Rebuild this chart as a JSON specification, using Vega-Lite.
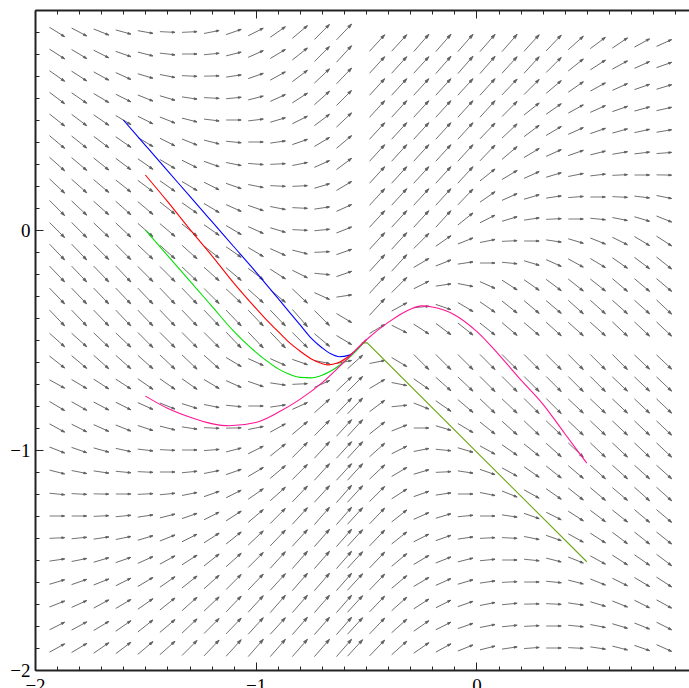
{
"$schema":"https://vega.github.io/schema/vega-lite/v6.json",
"width":654,"height":660,
"autosize":"none",
"padding":{"left":35,"top":10,"right":0,"bottom":18},
"background":"white",
"view":{"stroke":null},
"config":{"axis":{"labelFont":"Liberation Serif","labelFontSize":19,"labelColor":"#000","domainColor":"#222","domainWidth":2,"tickColor":"#222","tickWidth":1,"grid":false}},
"datasets":{
"field":[
{"x":-1.9,"y":0.9,"s":-0.62},{"x":-1.8,"y":0.9,"s":-0.53},{"x":-1.7,"y":0.9,"s":-0.4},{"x":-1.6,"y":0.9,"s":-0.28},{"x":-1.5,"y":0.9,"s":-0.18},{"x":-1.4,"y":0.9,"s":-0.05},{"x":-1.3,"y":0.9,"s":0.05},{"x":-1.2,"y":0.9,"s":0.2},{"x":-1.1,"y":0.9,"s":0.35},{"x":-1,"y":0.9,"s":0.5},{"x":-0.9,"y":0.9,"s":0.7},{"x":-0.8,"y":0.9,"s":0.85},{"x":-0.7,"y":0.9,"s":1},{"x":-0.6,"y":0.9,"s":1.05},
{"x":-1.9,"y":0.8,"s":-0.65},{"x":-1.8,"y":0.8,"s":-0.6},{"x":-1.7,"y":0.8,"s":-0.5},{"x":-1.6,"y":0.8,"s":-0.35},{"x":-1.5,"y":0.8,"s":-0.25},{"x":-1.4,"y":0.8,"s":-0.12},{"x":-1.3,"y":0.8,"s":0},{"x":-1.2,"y":0.8,"s":0.1},{"x":-1.1,"y":0.8,"s":0.25},{"x":-1,"y":0.8,"s":0.45},{"x":-0.9,"y":0.8,"s":0.6},{"x":-0.8,"y":0.8,"s":0.8},{"x":-0.7,"y":0.8,"s":1},{"x":-0.6,"y":0.8,"s":1.1},
{"x":-1.9,"y":0.7,"s":-0.7},{"x":-1.8,"y":0.7,"s":-0.65},{"x":-1.7,"y":0.7,"s":-0.55},{"x":-1.6,"y":0.7,"s":-0.45},{"x":-1.5,"y":0.7,"s":-0.3},{"x":-1.4,"y":0.7,"s":-0.2},{"x":-1.3,"y":0.7,"s":-0.05},{"x":-1.2,"y":0.7,"s":0.02},{"x":-1.1,"y":0.7,"s":0.15},{"x":-1,"y":0.7,"s":0.35},{"x":-0.9,"y":0.7,"s":0.55},{"x":-0.8,"y":0.7,"s":0.75},{"x":-0.7,"y":0.7,"s":0.95},{"x":-0.6,"y":0.7,"s":1.05},
{"x":-1.9,"y":0.6,"s":-0.75},{"x":-1.8,"y":0.6,"s":-0.7},{"x":-1.7,"y":0.6,"s":-0.6},{"x":-1.6,"y":0.6,"s":-0.5},{"x":-1.5,"y":0.6,"s":-0.4},{"x":-1.4,"y":0.6,"s":-0.3},{"x":-1.3,"y":0.6,"s":-0.15},{"x":-1.2,"y":0.6,"s":-0.05},{"x":-1.1,"y":0.6,"s":0.1},{"x":-1,"y":0.6,"s":0.25},{"x":-0.9,"y":0.6,"s":0.45},{"x":-0.8,"y":0.6,"s":0.65},{"x":-0.7,"y":0.6,"s":0.9},{"x":-0.6,"y":0.6,"s":1},
{"x":-1.9,"y":0.5,"s":-0.8},{"x":-1.8,"y":0.5,"s":-0.75},{"x":-1.7,"y":0.5,"s":-0.7},{"x":-1.6,"y":0.5,"s":-0.6},{"x":-1.5,"y":0.5,"s":-0.5},{"x":-1.4,"y":0.5,"s":-0.4},{"x":-1.3,"y":0.5,"s":-0.25},{"x":-1.2,"y":0.5,"s":-0.12},{"x":-1.1,"y":0.5,"s":0},{"x":-1,"y":0.5,"s":0.12},{"x":-0.9,"y":0.5,"s":0.3},{"x":-0.8,"y":0.5,"s":0.5},{"x":-0.7,"y":0.5,"s":0.75},{"x":-0.6,"y":0.5,"s":0.95},
{"x":-1.9,"y":0.4,"s":-0.85},{"x":-1.8,"y":0.4,"s":-0.8},{"x":-1.7,"y":0.4,"s":-0.75},{"x":-1.6,"y":0.4,"s":-0.7},{"x":-1.5,"y":0.4,"s":-0.6},{"x":-1.4,"y":0.4,"s":-0.5},{"x":-1.3,"y":0.4,"s":-0.4},{"x":-1.2,"y":0.4,"s":-0.25},{"x":-1.1,"y":0.4,"s":-0.1},{"x":-1,"y":0.4,"s":0},{"x":-0.9,"y":0.4,"s":0.15},{"x":-0.8,"y":0.4,"s":0.35},{"x":-0.7,"y":0.4,"s":0.6},{"x":-0.6,"y":0.4,"s":0.85},
{"x":-1.9,"y":0.3,"s":-0.9},{"x":-1.8,"y":0.3,"s":-0.85},{"x":-1.7,"y":0.3,"s":-0.8},{"x":-1.6,"y":0.3,"s":-0.75},{"x":-1.5,"y":0.3,"s":-0.7},{"x":-1.4,"y":0.3,"s":-0.6},{"x":-1.3,"y":0.3,"s":-0.5},{"x":-1.2,"y":0.3,"s":-0.35},{"x":-1.1,"y":0.3,"s":-0.2},{"x":-1,"y":0.3,"s":-0.08},{"x":-0.9,"y":0.3,"s":0.05},{"x":-0.8,"y":0.3,"s":0.2},{"x":-0.7,"y":0.3,"s":0.45},{"x":-0.6,"y":0.3,"s":0.75},
{"x":-1.9,"y":0.2,"s":-0.95},{"x":-1.8,"y":0.2,"s":-0.9},{"x":-1.7,"y":0.2,"s":-0.85},{"x":-1.6,"y":0.2,"s":-0.8},{"x":-1.5,"y":0.2,"s":-0.75},{"x":-1.4,"y":0.2,"s":-0.7},{"x":-1.3,"y":0.2,"s":-0.6},{"x":-1.2,"y":0.2,"s":-0.5},{"x":-1.1,"y":0.2,"s":-0.35},{"x":-1,"y":0.2,"s":-0.2},{"x":-0.9,"y":0.2,"s":-0.05},{"x":-0.8,"y":0.2,"s":0.05},{"x":-0.7,"y":0.2,"s":0.3},{"x":-0.6,"y":0.2,"s":0.6},
{"x":-1.9,"y":0.1,"s":-1},{"x":-1.8,"y":0.1,"s":-0.95},{"x":-1.7,"y":0.1,"s":-0.9},{"x":-1.6,"y":0.1,"s":-0.9},{"x":-1.5,"y":0.1,"s":-0.85},{"x":-1.4,"y":0.1,"s":-0.8},{"x":-1.3,"y":0.1,"s":-0.7},{"x":-1.2,"y":0.1,"s":-0.6},{"x":-1.1,"y":0.1,"s":-0.45},{"x":-1,"y":0.1,"s":-0.35},{"x":-0.9,"y":0.1,"s":-0.2},{"x":-0.8,"y":0.1,"s":-0.05},{"x":-0.7,"y":0.1,"s":0.15},{"x":-0.6,"y":0.1,"s":0.45},
{"x":-1.9,"y":0,"s":-1},{"x":-1.8,"y":0,"s":-1},{"x":-1.7,"y":0,"s":-0.95},{"x":-1.6,"y":0,"s":-0.95},{"x":-1.5,"y":0,"s":-0.9},{"x":-1.4,"y":0,"s":-0.85},{"x":-1.3,"y":0,"s":-0.8},{"x":-1.2,"y":0,"s":-0.7},{"x":-1.1,"y":0,"s":-0.6},{"x":-1,"y":0,"s":-0.45},{"x":-0.9,"y":0,"s":-0.3},{"x":-0.8,"y":0,"s":-0.05},{"x":-0.7,"y":0,"s":0.1},{"x":-0.6,"y":0,"s":0.4},
{"x":-1.9,"y":-0.1,"s":-1.05},{"x":-1.8,"y":-0.1,"s":-1.05},{"x":-1.7,"y":-0.1,"s":-1},{"x":-1.6,"y":-0.1,"s":-1},{"x":-1.5,"y":-0.1,"s":-0.95},{"x":-1.4,"y":-0.1,"s":-0.9},{"x":-1.3,"y":-0.1,"s":-0.9},{"x":-1.2,"y":-0.1,"s":-0.8},{"x":-1.1,"y":-0.1,"s":-0.7},{"x":-1,"y":-0.1,"s":-0.6},{"x":-0.9,"y":-0.1,"s":-0.45},{"x":-0.8,"y":-0.1,"s":-0.25},{"x":-0.7,"y":-0.1,"s":0.05},{"x":-0.6,"y":-0.1,"s":0.35},
{"x":-1.9,"y":-0.2,"s":-1.05},{"x":-1.8,"y":-0.2,"s":-1.05},{"x":-1.7,"y":-0.2,"s":-1.05},{"x":-1.6,"y":-0.2,"s":-1.05},{"x":-1.5,"y":-0.2,"s":-1},{"x":-1.4,"y":-0.2,"s":-1},{"x":-1.3,"y":-0.2,"s":-0.95},{"x":-1.2,"y":-0.2,"s":-0.9},{"x":-1.1,"y":-0.2,"s":-0.85},{"x":-1,"y":-0.2,"s":-0.75},{"x":-0.9,"y":-0.2,"s":-0.65},{"x":-0.8,"y":-0.2,"s":-0.5},{"x":-0.7,"y":-0.2,"s":-0.1},{"x":-0.6,"y":-0.2,"s":0.35},
{"x":-1.9,"y":-0.3,"s":-1.05},{"x":-1.8,"y":-0.3,"s":-1.05},{"x":-1.7,"y":-0.3,"s":-1.05},{"x":-1.6,"y":-0.3,"s":-1.05},{"x":-1.5,"y":-0.3,"s":-1.05},{"x":-1.4,"y":-0.3,"s":-1.05},{"x":-1.3,"y":-0.3,"s":-1.05},{"x":-1.2,"y":-0.3,"s":-1},{"x":-1.1,"y":-0.3,"s":-0.95},{"x":-1,"y":-0.3,"s":-0.9},{"x":-0.9,"y":-0.3,"s":-0.85},{"x":-0.8,"y":-0.3,"s":-0.95},{"x":-0.7,"y":-0.3,"s":-0.45},{"x":-0.6,"y":-0.3,"s":0.15},
{"x":-1.9,"y":-0.4,"s":-1.05},{"x":-1.8,"y":-0.4,"s":-1.05},{"x":-1.7,"y":-0.4,"s":-1.05},{"x":-1.6,"y":-0.4,"s":-1.05},{"x":-1.5,"y":-0.4,"s":-1.05},{"x":-1.4,"y":-0.4,"s":-1.05},{"x":-1.3,"y":-0.4,"s":-1.05},{"x":-1.2,"y":-0.4,"s":-1.05},{"x":-1.1,"y":-0.4,"s":-1.05},{"x":-1,"y":-0.4,"s":-1.05},{"x":-0.9,"y":-0.4,"s":-1.05},{"x":-0.8,"y":-0.4,"s":-1.15},{"x":-0.7,"y":-0.4,"s":-1},{"x":-0.6,"y":-0.4,"s":-0.6},
{"x":-1.9,"y":-0.5,"s":-0.9},{"x":-1.8,"y":-0.5,"s":-0.9},{"x":-1.7,"y":-0.5,"s":-0.95},{"x":-1.6,"y":-0.5,"s":-0.95},{"x":-1.5,"y":-0.5,"s":-1},{"x":-1.4,"y":-0.5,"s":-1},{"x":-1.3,"y":-0.5,"s":-1},{"x":-1.2,"y":-0.5,"s":-1},{"x":-1.1,"y":-0.5,"s":-1.05},{"x":-1,"y":-0.5,"s":-1.05},{"x":-0.9,"y":-0.5,"s":-1.05},{"x":-0.8,"y":-0.5,"s":-1},{"x":-0.7,"y":-0.5,"s":-0.85},{"x":-0.6,"y":-0.5,"s":-0.6},
{"x":-1.9,"y":-0.6,"s":-0.8},{"x":-1.8,"y":-0.6,"s":-0.85},{"x":-1.7,"y":-0.6,"s":-0.9},{"x":-1.6,"y":-0.6,"s":-0.9},{"x":-1.5,"y":-0.6,"s":-0.9},{"x":-1.4,"y":-0.6,"s":-0.95},{"x":-1.3,"y":-0.6,"s":-0.95},{"x":-1.2,"y":-0.6,"s":-0.9},{"x":-1.1,"y":-0.6,"s":-0.6},{"x":-1,"y":-0.6,"s":-0.45},{"x":-0.9,"y":-0.6,"s":-0.45},{"x":-0.8,"y":-0.6,"s":-0.35},{"x":-0.7,"y":-0.6,"s":-0.2},{"x":-0.6,"y":-0.6,"s":0.2},
{"x":-1.9,"y":-0.7,"s":-0.55},{"x":-1.8,"y":-0.7,"s":-0.6},{"x":-1.7,"y":-0.7,"s":-0.65},{"x":-1.6,"y":-0.7,"s":-0.65},{"x":-1.5,"y":-0.7,"s":-0.7},{"x":-1.4,"y":-0.7,"s":-0.7},{"x":-1.3,"y":-0.7,"s":-0.7},{"x":-1.2,"y":-0.7,"s":-0.6},{"x":-1.1,"y":-0.7,"s":-0.45},{"x":-1,"y":-0.7,"s":-0.35},{"x":-0.9,"y":-0.7,"s":-0.15},{"x":-0.8,"y":-0.7,"s":0.05},{"x":-0.7,"y":-0.7,"s":0.45},{"x":-0.6,"y":-0.7,"s":0.95},
{"x":-1.9,"y":-0.8,"s":-0.6},{"x":-1.8,"y":-0.8,"s":-0.57},{"x":-1.7,"y":-0.8,"s":-0.53},{"x":-1.6,"y":-0.8,"s":-0.5},{"x":-1.5,"y":-0.8,"s":-0.45},{"x":-1.4,"y":-0.8,"s":-0.4},{"x":-1.3,"y":-0.8,"s":-0.32},{"x":-1.2,"y":-0.8,"s":-0.2},{"x":-1.1,"y":-0.8,"s":-0.1},{"x":-1,"y":-0.8,"s":0},{"x":-0.9,"y":-0.8,"s":0.15},{"x":-0.8,"y":-0.8,"s":0.45},{"x":-0.7,"y":-0.8,"s":0.9},{"x":-0.6,"y":-0.8,"s":1.05},
{"x":-1.9,"y":-0.9,"s":-0.55},{"x":-1.8,"y":-0.9,"s":-0.5},{"x":-1.7,"y":-0.9,"s":-0.45},{"x":-1.6,"y":-0.9,"s":-0.4},{"x":-1.5,"y":-0.9,"s":-0.33},{"x":-1.4,"y":-0.9,"s":-0.25},{"x":-1.3,"y":-0.9,"s":-0.15},{"x":-1.2,"y":-0.9,"s":-0.05},{"x":-1.1,"y":-0.9,"s":0.02},{"x":-1,"y":-0.9,"s":0.2},{"x":-0.9,"y":-0.9,"s":0.55},{"x":-0.8,"y":-0.9,"s":0.85},{"x":-0.7,"y":-0.9,"s":1},{"x":-0.6,"y":-0.9,"s":1.1},
{"x":-1.9,"y":-1,"s":-0.4},{"x":-1.8,"y":-1,"s":-0.35},{"x":-1.7,"y":-1,"s":-0.28},{"x":-1.6,"y":-1,"s":-0.22},{"x":-1.5,"y":-1,"s":-0.12},{"x":-1.4,"y":-1,"s":-0.05},{"x":-1.3,"y":-1,"s":0},{"x":-1.2,"y":-1,"s":0.08},{"x":-1.1,"y":-1,"s":0.25},{"x":-1,"y":-1,"s":0.5},{"x":-0.9,"y":-1,"s":0.8},{"x":-0.8,"y":-1,"s":1},{"x":-0.7,"y":-1,"s":1.1},{"x":-0.6,"y":-1,"s":1.1},
{"x":-1.9,"y":-1.1,"s":-0.25},{"x":-1.8,"y":-1.1,"s":-0.2},{"x":-1.7,"y":-1.1,"s":-0.15},{"x":-1.6,"y":-1.1,"s":-0.1},{"x":-1.5,"y":-1.1,"s":-0.05},{"x":-1.4,"y":-1.1,"s":0},{"x":-1.3,"y":-1.1,"s":0.1},{"x":-1.2,"y":-1.1,"s":0.2},{"x":-1.1,"y":-1.1,"s":0.35},{"x":-1,"y":-1.1,"s":0.6},{"x":-0.9,"y":-1.1,"s":0.85},{"x":-0.8,"y":-1.1,"s":1},{"x":-0.7,"y":-1.1,"s":1.1},{"x":-0.6,"y":-1.1,"s":1.1},
{"x":-1.9,"y":-1.2,"s":-0.1},{"x":-1.8,"y":-1.2,"s":-0.05},{"x":-1.7,"y":-1.2,"s":-0.02},{"x":-1.6,"y":-1.2,"s":0},{"x":-1.5,"y":-1.2,"s":0.05},{"x":-1.4,"y":-1.2,"s":0.1},{"x":-1.3,"y":-1.2,"s":0.2},{"x":-1.2,"y":-1.2,"s":0.35},{"x":-1.1,"y":-1.2,"s":0.5},{"x":-1,"y":-1.2,"s":0.7},{"x":-0.9,"y":-1.2,"s":0.9},{"x":-0.8,"y":-1.2,"s":1.05},{"x":-0.7,"y":-1.2,"s":1.1},{"x":-0.6,"y":-1.2,"s":1.15},
{"x":-1.9,"y":-1.3,"s":0},{"x":-1.8,"y":-1.3,"s":0},{"x":-1.7,"y":-1.3,"s":0.05},{"x":-1.6,"y":-1.3,"s":0.1},{"x":-1.5,"y":-1.3,"s":0.15},{"x":-1.4,"y":-1.3,"s":0.25},{"x":-1.3,"y":-1.3,"s":0.35},{"x":-1.2,"y":-1.3,"s":0.5},{"x":-1.1,"y":-1.3,"s":0.65},{"x":-1,"y":-1.3,"s":0.85},{"x":-0.9,"y":-1.3,"s":1},{"x":-0.8,"y":-1.3,"s":1.1},{"x":-0.7,"y":-1.3,"s":1.15},{"x":-0.6,"y":-1.3,"s":1.15},
{"x":-1.9,"y":-1.4,"s":0.05},{"x":-1.8,"y":-1.4,"s":0.1},{"x":-1.7,"y":-1.4,"s":0.15},{"x":-1.6,"y":-1.4,"s":0.2},{"x":-1.5,"y":-1.4,"s":0.3},{"x":-1.4,"y":-1.4,"s":0.4},{"x":-1.3,"y":-1.4,"s":0.5},{"x":-1.2,"y":-1.4,"s":0.65},{"x":-1.1,"y":-1.4,"s":0.8},{"x":-1,"y":-1.4,"s":0.95},{"x":-0.9,"y":-1.4,"s":1.05},{"x":-0.8,"y":-1.4,"s":1.1},{"x":-0.7,"y":-1.4,"s":1.15},{"x":-0.6,"y":-1.4,"s":1.15},
{"x":-1.9,"y":-1.5,"s":0.15},{"x":-1.8,"y":-1.5,"s":0.2},{"x":-1.7,"y":-1.5,"s":0.3},{"x":-1.6,"y":-1.5,"s":0.35},{"x":-1.5,"y":-1.5,"s":0.45},{"x":-1.4,"y":-1.5,"s":0.55},{"x":-1.3,"y":-1.5,"s":0.65},{"x":-1.2,"y":-1.5,"s":0.8},{"x":-1.1,"y":-1.5,"s":0.9},{"x":-1,"y":-1.5,"s":1},{"x":-0.9,"y":-1.5,"s":1.1},{"x":-0.8,"y":-1.5,"s":1.15},{"x":-0.7,"y":-1.5,"s":1.15},{"x":-0.6,"y":-1.5,"s":1.15},
{"x":-1.9,"y":-1.6,"s":0.3},{"x":-1.8,"y":-1.6,"s":0.35},{"x":-1.7,"y":-1.6,"s":0.4},{"x":-1.6,"y":-1.6,"s":0.5},{"x":-1.5,"y":-1.6,"s":0.6},{"x":-1.4,"y":-1.6,"s":0.7},{"x":-1.3,"y":-1.6,"s":0.8},{"x":-1.2,"y":-1.6,"s":0.9},{"x":-1.1,"y":-1.6,"s":1},{"x":-1,"y":-1.6,"s":1.05},{"x":-0.9,"y":-1.6,"s":1.1},{"x":-0.8,"y":-1.6,"s":1.15},{"x":-0.7,"y":-1.6,"s":1.15},{"x":-0.6,"y":-1.6,"s":1.15},
{"x":-1.9,"y":-1.7,"s":0.4},{"x":-1.8,"y":-1.7,"s":0.45},{"x":-1.7,"y":-1.7,"s":0.55},{"x":-1.6,"y":-1.7,"s":0.6},{"x":-1.5,"y":-1.7,"s":0.7},{"x":-1.4,"y":-1.7,"s":0.8},{"x":-1.3,"y":-1.7,"s":0.9},{"x":-1.2,"y":-1.7,"s":0.95},{"x":-1.1,"y":-1.7,"s":1.05},{"x":-1,"y":-1.7,"s":1.1},{"x":-0.9,"y":-1.7,"s":1.15},{"x":-0.8,"y":-1.7,"s":1.15},{"x":-0.7,"y":-1.7,"s":1.15},{"x":-0.6,"y":-1.7,"s":1.15},
{"x":-1.9,"y":-1.8,"s":0.5},{"x":-1.8,"y":-1.8,"s":0.55},{"x":-1.7,"y":-1.8,"s":0.6},{"x":-1.6,"y":-1.8,"s":0.7},{"x":-1.5,"y":-1.8,"s":0.8},{"x":-1.4,"y":-1.8,"s":0.85},{"x":-1.3,"y":-1.8,"s":0.95},{"x":-1.2,"y":-1.8,"s":1},{"x":-1.1,"y":-1.8,"s":1.05},{"x":-1,"y":-1.8,"s":1.1},{"x":-0.9,"y":-1.8,"s":1.1},{"x":-0.8,"y":-1.8,"s":1.15},{"x":-0.7,"y":-1.8,"s":1.15},{"x":-0.6,"y":-1.8,"s":1.15},
{"x":-1.9,"y":-1.9,"s":0.55},{"x":-1.8,"y":-1.9,"s":0.6},{"x":-1.7,"y":-1.9,"s":0.7},{"x":-1.6,"y":-1.9,"s":0.75},{"x":-1.5,"y":-1.9,"s":0.85},{"x":-1.4,"y":-1.9,"s":0.9},{"x":-1.3,"y":-1.9,"s":1},{"x":-1.2,"y":-1.9,"s":1.05},{"x":-1.1,"y":-1.9,"s":1.1},{"x":-1,"y":-1.9,"s":1.15},{"x":-0.9,"y":-1.9,"s":1.15},{"x":-0.8,"y":-1.9,"s":1.15},{"x":-0.7,"y":-1.9,"s":1.15},{"x":-0.6,"y":-1.9,"s":1.15},
{"x":-0.45,"y":0.85,"s":1.1},{"x":-0.35,"y":0.85,"s":1.1},{"x":-0.25,"y":0.85,"s":1.15},{"x":-0.15,"y":0.85,"s":1.15},{"x":-0.05,"y":0.85,"s":1.15},{"x":0.05,"y":0.85,"s":1.15},{"x":0.15,"y":0.85,"s":1.15},{"x":0.25,"y":0.85,"s":1.1},{"x":0.35,"y":0.85,"s":1.05},{"x":0.45,"y":0.85,"s":0.9},{"x":0.55,"y":0.85,"s":0.75},{"x":0.65,"y":0.85,"s":0.68},{"x":0.75,"y":0.85,"s":0.55},{"x":0.85,"y":0.85,"s":0.45},
{"x":-0.45,"y":0.75,"s":1.1},{"x":-0.35,"y":0.75,"s":1.1},{"x":-0.25,"y":0.75,"s":1.1},{"x":-0.15,"y":0.75,"s":1.15},{"x":-0.05,"y":0.75,"s":1.15},{"x":0.05,"y":0.75,"s":1.15},{"x":0.15,"y":0.75,"s":1.1},{"x":0.25,"y":0.75,"s":1.1},{"x":0.35,"y":0.75,"s":1},{"x":0.45,"y":0.75,"s":0.8},{"x":0.55,"y":0.75,"s":0.65},{"x":0.65,"y":0.75,"s":0.55},{"x":0.75,"y":0.75,"s":0.45},{"x":0.85,"y":0.75,"s":0.35},
{"x":-0.45,"y":0.65,"s":1.1},{"x":-0.35,"y":0.65,"s":1.1},{"x":-0.25,"y":0.65,"s":1.1},{"x":-0.15,"y":0.65,"s":1.1},{"x":-0.05,"y":0.65,"s":1.1},{"x":0.05,"y":0.65,"s":1.1},{"x":0.15,"y":0.65,"s":1.05},{"x":0.25,"y":0.65,"s":1},{"x":0.35,"y":0.65,"s":0.85},{"x":0.45,"y":0.65,"s":0.7},{"x":0.55,"y":0.65,"s":0.55},{"x":0.65,"y":0.65,"s":0.45},{"x":0.75,"y":0.65,"s":0.35},{"x":0.85,"y":0.65,"s":0.3},
{"x":-0.45,"y":0.55,"s":1.1},{"x":-0.35,"y":0.55,"s":1.1},{"x":-0.25,"y":0.55,"s":1.1},{"x":-0.15,"y":0.55,"s":1.1},{"x":-0.05,"y":0.55,"s":1.1},{"x":0.05,"y":0.55,"s":1.1},{"x":0.15,"y":0.55,"s":1},{"x":0.25,"y":0.55,"s":0.8},{"x":0.35,"y":0.55,"s":0.7},{"x":0.45,"y":0.55,"s":0.55},{"x":0.55,"y":0.55,"s":0.45},{"x":0.65,"y":0.55,"s":0.35},{"x":0.75,"y":0.55,"s":0.27},{"x":0.85,"y":0.55,"s":0.22},
{"x":-0.45,"y":0.45,"s":1.1},{"x":-0.35,"y":0.45,"s":1.1},{"x":-0.25,"y":0.45,"s":1.1},{"x":-0.15,"y":0.45,"s":1.1},{"x":-0.05,"y":0.45,"s":1.1},{"x":0.05,"y":0.45,"s":1.05},{"x":0.15,"y":0.45,"s":0.95},{"x":0.25,"y":0.45,"s":0.75},{"x":0.35,"y":0.45,"s":0.6},{"x":0.45,"y":0.45,"s":0.45},{"x":0.55,"y":0.45,"s":0.35},{"x":0.65,"y":0.45,"s":0.28},{"x":0.75,"y":0.45,"s":0.22},{"x":0.85,"y":0.45,"s":0.17},
{"x":-0.45,"y":0.35,"s":1.1},{"x":-0.35,"y":0.35,"s":1.1},{"x":-0.25,"y":0.35,"s":1.1},{"x":-0.15,"y":0.35,"s":1.1},{"x":-0.05,"y":0.35,"s":1.1},{"x":0.05,"y":0.35,"s":1.05},{"x":0.15,"y":0.35,"s":0.85},{"x":0.25,"y":0.35,"s":0.6},{"x":0.35,"y":0.35,"s":0.45},{"x":0.45,"y":0.35,"s":0.35},{"x":0.55,"y":0.35,"s":0.25},{"x":0.65,"y":0.35,"s":0.17},{"x":0.75,"y":0.35,"s":0.12},{"x":0.85,"y":0.35,"s":0.08},
{"x":-0.45,"y":0.25,"s":1.1},{"x":-0.35,"y":0.25,"s":1.1},{"x":-0.25,"y":0.25,"s":1.1},{"x":-0.15,"y":0.25,"s":1.1},{"x":-0.05,"y":0.25,"s":1.1},{"x":0.05,"y":0.25,"s":0.8},{"x":0.15,"y":0.25,"s":0.6},{"x":0.25,"y":0.25,"s":0.45},{"x":0.35,"y":0.25,"s":0.3},{"x":0.45,"y":0.25,"s":0.2},{"x":0.55,"y":0.25,"s":0.12},{"x":0.65,"y":0.25,"s":0.05},{"x":0.75,"y":0.25,"s":0},{"x":0.85,"y":0.25,"s":-0.02},
{"x":-0.45,"y":0.15,"s":1.1},{"x":-0.35,"y":0.15,"s":1.1},{"x":-0.25,"y":0.15,"s":1.1},{"x":-0.15,"y":0.15,"s":1.1},{"x":-0.05,"y":0.15,"s":1.05},{"x":0.05,"y":0.15,"s":0.7},{"x":0.15,"y":0.15,"s":0.45},{"x":0.25,"y":0.15,"s":0.3},{"x":0.35,"y":0.15,"s":0.15},{"x":0.45,"y":0.15,"s":0.08},{"x":0.55,"y":0.15,"s":0},{"x":0.65,"y":0.15,"s":-0.05},{"x":0.75,"y":0.15,"s":-0.12},{"x":0.85,"y":0.15,"s":-0.2},
{"x":-0.45,"y":0.05,"s":1.1},{"x":-0.35,"y":0.05,"s":1.1},{"x":-0.25,"y":0.05,"s":1.1},{"x":-0.15,"y":0.05,"s":1.1},{"x":-0.05,"y":0.05,"s":0.8},{"x":0.05,"y":0.05,"s":0.5},{"x":0.15,"y":0.05,"s":0.3},{"x":0.25,"y":0.05,"s":0.15},{"x":0.35,"y":0.05,"s":0.05},{"x":0.45,"y":0.05,"s":0},{"x":0.55,"y":0.05,"s":-0.1},{"x":0.65,"y":0.05,"s":-0.2},{"x":0.75,"y":0.05,"s":-0.3},{"x":0.85,"y":0.05,"s":-0.4},
{"x":-0.45,"y":-0.05,"s":1.1},{"x":-0.35,"y":-0.05,"s":1.1},{"x":-0.25,"y":-0.05,"s":1},{"x":-0.15,"y":-0.05,"s":0.7},{"x":-0.05,"y":-0.05,"s":0.4},{"x":0.05,"y":-0.05,"s":0.2},{"x":0.15,"y":-0.05,"s":0.05},{"x":0.25,"y":-0.05,"s":0},{"x":0.35,"y":-0.05,"s":-0.15},{"x":0.45,"y":-0.05,"s":-0.3},{"x":0.55,"y":-0.05,"s":-0.4},{"x":0.65,"y":-0.05,"s":-0.5},{"x":0.75,"y":-0.05,"s":-0.6},{"x":0.85,"y":-0.05,"s":-0.65},
{"x":-0.45,"y":-0.15,"s":1.1},{"x":-0.35,"y":-0.15,"s":1.1},{"x":-0.25,"y":-0.15,"s":0.6},{"x":-0.15,"y":-0.15,"s":0.4},{"x":-0.05,"y":-0.15,"s":0.15},{"x":0.05,"y":-0.15,"s":0},{"x":0.15,"y":-0.15,"s":-0.1},{"x":0.25,"y":-0.15,"s":-0.3},{"x":0.35,"y":-0.15,"s":-0.45},{"x":0.45,"y":-0.15,"s":-0.55},{"x":0.55,"y":-0.15,"s":-0.6},{"x":0.65,"y":-0.15,"s":-0.7},{"x":0.75,"y":-0.15,"s":-0.75},{"x":0.85,"y":-0.15,"s":-0.8},
{"x":-0.45,"y":-0.25,"s":1.1},{"x":-0.35,"y":-0.25,"s":1},{"x":-0.25,"y":-0.25,"s":0.5},{"x":-0.15,"y":-0.25,"s":0.15},{"x":-0.05,"y":-0.25,"s":-0.2},{"x":0.05,"y":-0.25,"s":-0.45},{"x":0.15,"y":-0.25,"s":-0.65},{"x":0.25,"y":-0.25,"s":-0.7},{"x":0.35,"y":-0.25,"s":-0.75},{"x":0.45,"y":-0.25,"s":-0.8},{"x":0.55,"y":-0.25,"s":-0.8},{"x":0.65,"y":-0.25,"s":-0.85},{"x":0.75,"y":-0.25,"s":-0.85},{"x":0.85,"y":-0.25,"s":-0.85},
{"x":-0.45,"y":-0.35,"s":1.1},{"x":-0.35,"y":-0.35,"s":0.55},{"x":-0.25,"y":-0.35,"s":0.1},{"x":-0.15,"y":-0.35,"s":-0.35},{"x":-0.05,"y":-0.35,"s":-0.6},{"x":0.05,"y":-0.35,"s":-0.7},{"x":0.15,"y":-0.35,"s":-0.8},{"x":0.25,"y":-0.35,"s":-0.85},{"x":0.35,"y":-0.35,"s":-0.85},{"x":0.45,"y":-0.35,"s":-0.9},{"x":0.55,"y":-0.35,"s":-0.9},{"x":0.65,"y":-0.35,"s":-0.9},{"x":0.75,"y":-0.35,"s":-0.9},{"x":0.85,"y":-0.35,"s":-0.95},
{"x":-0.45,"y":-0.45,"s":0.6},{"x":-0.35,"y":-0.45,"s":-0.5},{"x":-0.25,"y":-0.45,"s":-0.65},{"x":-0.15,"y":-0.45,"s":-0.75},{"x":-0.05,"y":-0.45,"s":-0.8},{"x":0.05,"y":-0.45,"s":-0.8},{"x":0.15,"y":-0.45,"s":-0.85},{"x":0.25,"y":-0.45,"s":-0.85},{"x":0.35,"y":-0.45,"s":-0.9},{"x":0.45,"y":-0.45,"s":-0.9},{"x":0.55,"y":-0.45,"s":-0.9},{"x":0.65,"y":-0.45,"s":-0.95},{"x":0.75,"y":-0.45,"s":-0.95},{"x":0.85,"y":-0.45,"s":-0.95},
{"x":-0.55,"y":-0.6,"s":0.9},{"x":-0.45,"y":-0.6,"s":0.2},{"x":-0.35,"y":-0.6,"s":-0.6},{"x":-0.25,"y":-0.6,"s":-1},{"x":-0.15,"y":-0.6,"s":-1},{"x":-0.05,"y":-0.6,"s":-1},{"x":0.05,"y":-0.6,"s":-1},{"x":0.15,"y":-0.6,"s":-1},{"x":0.25,"y":-0.6,"s":-1},{"x":0.35,"y":-0.6,"s":-1},{"x":0.45,"y":-0.6,"s":-1},{"x":0.55,"y":-0.6,"s":-1},{"x":0.65,"y":-0.6,"s":-1},{"x":0.75,"y":-0.6,"s":-0.95},{"x":0.85,"y":-0.6,"s":-0.95},
{"x":-0.55,"y":-0.7,"s":1},{"x":-0.45,"y":-0.7,"s":0.6},{"x":-0.35,"y":-0.7,"s":-0.2},{"x":-0.25,"y":-0.7,"s":-0.7},{"x":-0.15,"y":-0.7,"s":-0.9},{"x":-0.05,"y":-0.7,"s":-0.95},{"x":0.05,"y":-0.7,"s":-1},{"x":0.15,"y":-0.7,"s":-1},{"x":0.25,"y":-0.7,"s":-1},{"x":0.35,"y":-0.7,"s":-1},{"x":0.45,"y":-0.7,"s":-1},{"x":0.55,"y":-0.7,"s":-1},{"x":0.65,"y":-0.7,"s":-0.95},{"x":0.75,"y":-0.7,"s":-0.95},{"x":0.85,"y":-0.7,"s":-0.95},
{"x":-0.55,"y":-0.8,"s":1.05},{"x":-0.45,"y":-0.8,"s":0.75},{"x":-0.35,"y":-0.8,"s":0.1},{"x":-0.25,"y":-0.8,"s":-0.4},{"x":-0.15,"y":-0.8,"s":-0.7},{"x":-0.05,"y":-0.8,"s":-0.85},{"x":0.05,"y":-0.8,"s":-0.95},{"x":0.15,"y":-0.8,"s":-0.95},{"x":0.25,"y":-0.8,"s":-1},{"x":0.35,"y":-0.8,"s":-1},{"x":0.45,"y":-0.8,"s":-0.95},{"x":0.55,"y":-0.8,"s":-0.95},{"x":0.65,"y":-0.8,"s":-0.95},{"x":0.75,"y":-0.8,"s":-0.95},{"x":0.85,"y":-0.8,"s":-0.95},
{"x":-0.55,"y":-0.9,"s":1.1},{"x":-0.45,"y":-0.9,"s":0.8},{"x":-0.35,"y":-0.9,"s":0.4},{"x":-0.25,"y":-0.9,"s":0},{"x":-0.15,"y":-0.9,"s":-0.3},{"x":-0.05,"y":-0.9,"s":-0.6},{"x":0.05,"y":-0.9,"s":-0.8},{"x":0.15,"y":-0.9,"s":-0.9},{"x":0.25,"y":-0.9,"s":-0.95},{"x":0.35,"y":-0.9,"s":-0.95},{"x":0.45,"y":-0.9,"s":-0.95},{"x":0.55,"y":-0.9,"s":-0.95},{"x":0.65,"y":-0.9,"s":-0.95},{"x":0.75,"y":-0.9,"s":-0.95},{"x":0.85,"y":-0.9,"s":-0.95},
{"x":-0.55,"y":-1,"s":1.1},{"x":-0.45,"y":-1,"s":0.9},{"x":-0.35,"y":-1,"s":0.5},{"x":-0.25,"y":-1,"s":0.2},{"x":-0.15,"y":-1,"s":-0.1},{"x":-0.05,"y":-1,"s":-0.3},{"x":0.05,"y":-1,"s":-0.55},{"x":0.15,"y":-1,"s":-0.7},{"x":0.25,"y":-1,"s":-0.8},{"x":0.35,"y":-1,"s":-0.9},{"x":0.45,"y":-1,"s":-0.95},{"x":0.55,"y":-1,"s":-0.95},{"x":0.65,"y":-1,"s":-0.95},{"x":0.75,"y":-1,"s":-0.95},{"x":0.85,"y":-1,"s":-0.95},
{"x":-0.55,"y":-1.1,"s":1.1},{"x":-0.45,"y":-1.1,"s":0.95},{"x":-0.35,"y":-1.1,"s":0.6},{"x":-0.25,"y":-1.1,"s":0.3},{"x":-0.15,"y":-1.1,"s":0.05},{"x":-0.05,"y":-1.1,"s":-0.15},{"x":0.05,"y":-1.1,"s":-0.35},{"x":0.15,"y":-1.1,"s":-0.55},{"x":0.25,"y":-1.1,"s":-0.7},{"x":0.35,"y":-1.1,"s":-0.8},{"x":0.45,"y":-1.1,"s":-0.85},{"x":0.55,"y":-1.1,"s":-0.9},{"x":0.65,"y":-1.1,"s":-0.9},{"x":0.75,"y":-1.1,"s":-0.9},{"x":0.85,"y":-1.1,"s":-0.9},
{"x":-0.55,"y":-1.2,"s":1.1},{"x":-0.45,"y":-1.2,"s":1},{"x":-0.35,"y":-1.2,"s":0.65},{"x":-0.25,"y":-1.2,"s":0.35},{"x":-0.15,"y":-1.2,"s":0.15},{"x":-0.05,"y":-1.2,"s":0},{"x":0.05,"y":-1.2,"s":-0.2},{"x":0.15,"y":-1.2,"s":-0.4},{"x":0.25,"y":-1.2,"s":-0.55},{"x":0.35,"y":-1.2,"s":-0.7},{"x":0.45,"y":-1.2,"s":-0.8},{"x":0.55,"y":-1.2,"s":-0.85},{"x":0.65,"y":-1.2,"s":-0.85},{"x":0.75,"y":-1.2,"s":-0.9},{"x":0.85,"y":-1.2,"s":-0.9},
{"x":-0.55,"y":-1.3,"s":1.1},{"x":-0.45,"y":-1.3,"s":1.05},{"x":-0.35,"y":-1.3,"s":0.8},{"x":-0.25,"y":-1.3,"s":0.45},{"x":-0.15,"y":-1.3,"s":0.3},{"x":-0.05,"y":-1.3,"s":0.1},{"x":0.05,"y":-1.3,"s":0},{"x":0.15,"y":-1.3,"s":-0.15},{"x":0.25,"y":-1.3,"s":-0.35},{"x":0.35,"y":-1.3,"s":-0.5},{"x":0.45,"y":-1.3,"s":-0.65},{"x":0.55,"y":-1.3,"s":-0.75},{"x":0.65,"y":-1.3,"s":-0.8},{"x":0.75,"y":-1.3,"s":-0.85},{"x":0.85,"y":-1.3,"s":-0.85},
{"x":-0.55,"y":-1.4,"s":1.1},{"x":-0.45,"y":-1.4,"s":1.05},{"x":-0.35,"y":-1.4,"s":0.8},{"x":-0.25,"y":-1.4,"s":0.5},{"x":-0.15,"y":-1.4,"s":0.35},{"x":-0.05,"y":-1.4,"s":0.15},{"x":0.05,"y":-1.4,"s":0.05},{"x":0.15,"y":-1.4,"s":-0.05},{"x":0.25,"y":-1.4,"s":-0.2},{"x":0.35,"y":-1.4,"s":-0.35},{"x":0.45,"y":-1.4,"s":-0.55},{"x":0.55,"y":-1.4,"s":-0.65},{"x":0.65,"y":-1.4,"s":-0.75},{"x":0.75,"y":-1.4,"s":-0.8},{"x":0.85,"y":-1.4,"s":-0.8},
{"x":-0.55,"y":-1.5,"s":1.1},{"x":-0.45,"y":-1.5,"s":1.05},{"x":-0.35,"y":-1.5,"s":0.85},{"x":-0.25,"y":-1.5,"s":0.6},{"x":-0.15,"y":-1.5,"s":0.4},{"x":-0.05,"y":-1.5,"s":0.25},{"x":0.05,"y":-1.5,"s":0.1},{"x":0.15,"y":-1.5,"s":0},{"x":0.25,"y":-1.5,"s":-0.1},{"x":0.35,"y":-1.5,"s":-0.25},{"x":0.45,"y":-1.5,"s":-0.4},{"x":0.55,"y":-1.5,"s":-0.55},{"x":0.65,"y":-1.5,"s":-0.65},{"x":0.75,"y":-1.5,"s":-0.7},{"x":0.85,"y":-1.5,"s":-0.75},
{"x":-0.55,"y":-1.6,"s":1.1},{"x":-0.45,"y":-1.6,"s":1.05},{"x":-0.35,"y":-1.6,"s":0.85},{"x":-0.25,"y":-1.6,"s":0.6},{"x":-0.15,"y":-1.6,"s":0.45},{"x":-0.05,"y":-1.6,"s":0.3},{"x":0.05,"y":-1.6,"s":0.15},{"x":0.15,"y":-1.6,"s":0.05},{"x":0.25,"y":-1.6,"s":0},{"x":0.35,"y":-1.6,"s":-0.1},{"x":0.45,"y":-1.6,"s":-0.25},{"x":0.55,"y":-1.6,"s":-0.4},{"x":0.65,"y":-1.6,"s":-0.5},{"x":0.75,"y":-1.6,"s":-0.6},{"x":0.85,"y":-1.6,"s":-0.65},
{"x":-0.55,"y":-1.7,"s":1.1},{"x":-0.45,"y":-1.7,"s":1.05},{"x":-0.35,"y":-1.7,"s":0.9},{"x":-0.25,"y":-1.7,"s":0.65},{"x":-0.15,"y":-1.7,"s":0.5},{"x":-0.05,"y":-1.7,"s":0.35},{"x":0.05,"y":-1.7,"s":0.2},{"x":0.15,"y":-1.7,"s":0.1},{"x":0.25,"y":-1.7,"s":0.02},{"x":0.35,"y":-1.7,"s":-0.05},{"x":0.45,"y":-1.7,"s":-0.15},{"x":0.55,"y":-1.7,"s":-0.3},{"x":0.65,"y":-1.7,"s":-0.4},{"x":0.75,"y":-1.7,"s":-0.5},{"x":0.85,"y":-1.7,"s":-0.55},
{"x":-0.55,"y":-1.8,"s":1.1},{"x":-0.45,"y":-1.8,"s":1.05},{"x":-0.35,"y":-1.8,"s":0.9},{"x":-0.25,"y":-1.8,"s":0.7},{"x":-0.15,"y":-1.8,"s":0.5},{"x":-0.05,"y":-1.8,"s":0.35},{"x":0.05,"y":-1.8,"s":0.2},{"x":0.15,"y":-1.8,"s":0.1},{"x":0.25,"y":-1.8,"s":0.05},{"x":0.35,"y":-1.8,"s":0},{"x":0.45,"y":-1.8,"s":-0.1},{"x":0.55,"y":-1.8,"s":-0.2},{"x":0.65,"y":-1.8,"s":-0.3},{"x":0.75,"y":-1.8,"s":-0.4},{"x":0.85,"y":-1.8,"s":-0.5},
{"x":-0.55,"y":-1.9,"s":1.1},{"x":-0.45,"y":-1.9,"s":1.05},{"x":-0.35,"y":-1.9,"s":0.9},{"x":-0.25,"y":-1.9,"s":0.7},{"x":-0.15,"y":-1.9,"s":0.55},{"x":-0.05,"y":-1.9,"s":0.4},{"x":0.05,"y":-1.9,"s":0.25},{"x":0.15,"y":-1.9,"s":0.15},{"x":0.25,"y":-1.9,"s":0.08},{"x":0.35,"y":-1.9,"s":0},{"x":0.45,"y":-1.9,"s":-0.05},{"x":0.55,"y":-1.9,"s":-0.15},{"x":0.65,"y":-1.9,"s":-0.25},{"x":0.75,"y":-1.9,"s":-0.35},{"x":0.85,"y":-1.9,"s":-0.45}
],
"olive":[
{"x":-0.52,"y":-0.513},{"x":-0.495,"y":-0.513},{"x":0.5,"y":-1.508}
],
"curves":[
{"c":"b","x":-1.6,"y":0.5},{"c":"b","x":-1.5,"y":0.385},{"c":"b","x":-1.4,"y":0.27},{"c":"b","x":-1.3,"y":0.155},{"c":"b","x":-1.2,"y":0.04},{"c":"b","x":-1.1,"y":-0.075},{"c":"b","x":-1.0,"y":-0.19},{"c":"b","x":-0.9,"y":-0.31},{"c":"b","x":-0.8,"y":-0.43},{"c":"b","x":-0.75,"y":-0.49},{"c":"b","x":-0.7,"y":-0.535},{"c":"b","x":-0.66,"y":-0.563},{"c":"b","x":-0.62,"y":-0.576},{"c":"b","x":-0.58,"y":-0.57},{"c":"b","x":-0.54,"y":-0.542},{"c":"b","x":-0.5,"y":-0.5},
{"c":"r","x":-1.5,"y":0.25},{"c":"r","x":-1.4,"y":0.13},{"c":"r","x":-1.3,"y":0.005},{"c":"r","x":-1.2,"y":-0.115},{"c":"r","x":-1.1,"y":-0.24},{"c":"r","x":-1.0,"y":-0.355},{"c":"r","x":-0.95,"y":-0.41},{"c":"r","x":-0.9,"y":-0.46},{"c":"r","x":-0.85,"y":-0.51},{"c":"r","x":-0.8,"y":-0.55},{"c":"r","x":-0.75,"y":-0.585},{"c":"r","x":-0.7,"y":-0.607},{"c":"r","x":-0.67,"y":-0.613},{"c":"r","x":-0.63,"y":-0.605},{"c":"r","x":-0.58,"y":-0.575},{"c":"r","x":-0.54,"y":-0.54},{"c":"r","x":-0.5,"y":-0.5},
{"c":"g","x":-1.5,"y":0.0},{"c":"g","x":-1.4,"y":-0.115},{"c":"g","x":-1.3,"y":-0.23},{"c":"g","x":-1.2,"y":-0.345},{"c":"g","x":-1.1,"y":-0.46},{"c":"g","x":-1.05,"y":-0.51},{"c":"g","x":-1.0,"y":-0.555},{"c":"g","x":-0.95,"y":-0.595},{"c":"g","x":-0.9,"y":-0.63},{"c":"g","x":-0.85,"y":-0.655},{"c":"g","x":-0.8,"y":-0.67},{"c":"g","x":-0.75,"y":-0.672},{"c":"g","x":-0.7,"y":-0.66},{"c":"g","x":-0.65,"y":-0.635},{"c":"g","x":-0.6,"y":-0.6},{"c":"g","x":-0.55,"y":-0.555},{"c":"g","x":-0.5,"y":-0.5},
{"c":"m","x":-1.5,"y":-0.755},{"c":"m","x":-1.4,"y":-0.81},{"c":"m","x":-1.3,"y":-0.85},{"c":"m","x":-1.2,"y":-0.88},{"c":"m","x":-1.12,"y":-0.89},{"c":"m","x":-1.0,"y":-0.875},{"c":"m","x":-0.9,"y":-0.83},{"c":"m","x":-0.8,"y":-0.77},{"c":"m","x":-0.7,"y":-0.695},{"c":"m","x":-0.6,"y":-0.6},{"c":"m","x":-0.5,"y":-0.5},{"c":"m","x":-0.4,"y":-0.42},{"c":"m","x":-0.3,"y":-0.36},{"c":"m","x":-0.25,"y":-0.345},{"c":"m","x":-0.2,"y":-0.35},{"c":"m","x":-0.1,"y":-0.385},{"c":"m","x":0.0,"y":-0.46},{"c":"m","x":0.1,"y":-0.565},{"c":"m","x":0.2,"y":-0.68},{"c":"m","x":0.3,"y":-0.79},{"c":"m","x":0.4,"y":-0.925},{"c":"m","x":0.5,"y":-1.06}
]
},
"layer":[
{"data":{"name":"field"},
 "mark":{"type":"point","shape":"M -1 0 L 1 0 M 0.62 -0.12 L 1 0 L 0.62 0.12 Z","filled":true,"fill":"#626262","stroke":"#626262","strokeWidth":0.85,"opacity":1},
 "encoding":{
  "x":{"field":"x","type":"quantitative","title":null,"scale":{"domain":[-2,0.963],"nice":false,"zero":false},
   "axis":{"orient":"bottom","values":[-2,-1.9,-1.8,-1.7,-1.6,-1.5,-1.4,-1.3,-1.2,-1.1,-1,-0.9,-0.8,-0.7,-0.6,-0.5,-0.4,-0.3,-0.2,-0.1,0,0.1,0.2,0.3,0.4,0.5,0.6,0.7,0.8,0.9],
    "tickSize":-4,"domainWidth":2,"domainColor":"#222",
    "labelExpr":"abs(datum.value - round(datum.value)) < 0.001 ? format(datum.value, 'd') : ''",
    "labelPadding":10,"labelOverlap":false,"labelFlush":false,"labelBound":false}},
  "y":{"field":"y","type":"quantitative","title":null,"scale":{"domain":[-2,1],"nice":false,"zero":false},
   "axis":{"orient":"left","values":[-2,-1.9,-1.8,-1.7,-1.6,-1.5,-1.4,-1.3,-1.2,-1.1,-1,-0.9,-0.8,-0.7,-0.6,-0.5,-0.4,-0.3,-0.2,-0.1,0,0.1,0.2,0.3,0.4,0.5,0.6,0.7,0.8,0.9,1],
    "tickSize":-4,"domainWidth":2,"domainColor":"#222",
    "labelExpr":"abs(datum.value - round(datum.value)) < 0.001 && datum.value < 0.5 ? format(datum.value, 'd') : ''",
    "labelPadding":9,"labelOverlap":false,"labelFlush":false,"labelBound":false}},
  "angle":{"field":"s","type":"quantitative","legend":null,"scale":{"type":"linear","domain":[-1.5,-1.25,-1,-0.75,-0.5,-0.25,0,0.25,0.5,0.75,1,1.25,1.5],"range":[56.31,51.34,45,36.87,26.57,14.04,0,-14.04,-26.57,-36.87,-45,-51.34,-56.31]}},
  "size":{"field":"s","type":"quantitative","legend":null,"scale":{"type":"linear","domain":[-1.5,-1.25,-1,-0.75,-0.5,-0.25,0,0.25,0.5,0.75,1,1.25,1.5],"range":[731,577,450,352,281,239,225,239,281,352,450,577,731]}}
 }},
{"data":{"name":"olive"},
 "mark":{"type":"line","strokeWidth":1.1,"clip":true,"color":"#6aa812"},
 "encoding":{
  "x":{"field":"x","type":"quantitative","title":null,
   "axis":{"orient":"top","values":[-2,-1.9,-1.8,-1.7,-1.6,-1.5,-1.4,-1.3,-1.2,-1.1,-1,-0.9,-0.8,-0.7,-0.6,-0.5,-0.4,-0.3,-0.2,-0.1,0,0.1,0.2,0.3,0.4,0.5,0.6,0.7,0.8,0.9],
    "tickSize":-4,"labels":false,"domainWidth":2,"domainColor":"#222"}},
  "y":{"field":"y","type":"quantitative","title":null,"axis":null}
 }},
{"data":{"name":"curves"},
 "mark":{"type":"line","strokeWidth":1.1,"clip":true,"interpolate":"monotone"},
 "encoding":{
  "x":{"field":"x","type":"quantitative","title":null,
   "axis":{"orient":"bottom","values":[-2,-1,0],"tickSize":-8,"labels":false,"domain":false}},
  "y":{"field":"y","type":"quantitative","title":null,
   "axis":{"orient":"left","values":[-2,-1,0,1],"tickSize":-8,"labels":false,"domain":false}},
  "color":{"field":"c","type":"nominal","legend":null,"scale":{"domain":["b","r","g","m"],"range":["#0000ff","#ff0000","#00e000","#ff1493"]}}
 }},
{"data":{"name":"olive"},
 "mark":{"type":"point","opacity":0},
 "encoding":{
  "x":{"field":"x","type":"quantitative","title":null,
   "axis":{"orient":"top","values":[-2,-1,0],"tickSize":-8,"labels":false,"domain":false}},
  "y":{"field":"y","type":"quantitative","title":null,"axis":null}
 }}
],
"resolve":{"axis":{"x":"independent","y":"independent"}}
}
